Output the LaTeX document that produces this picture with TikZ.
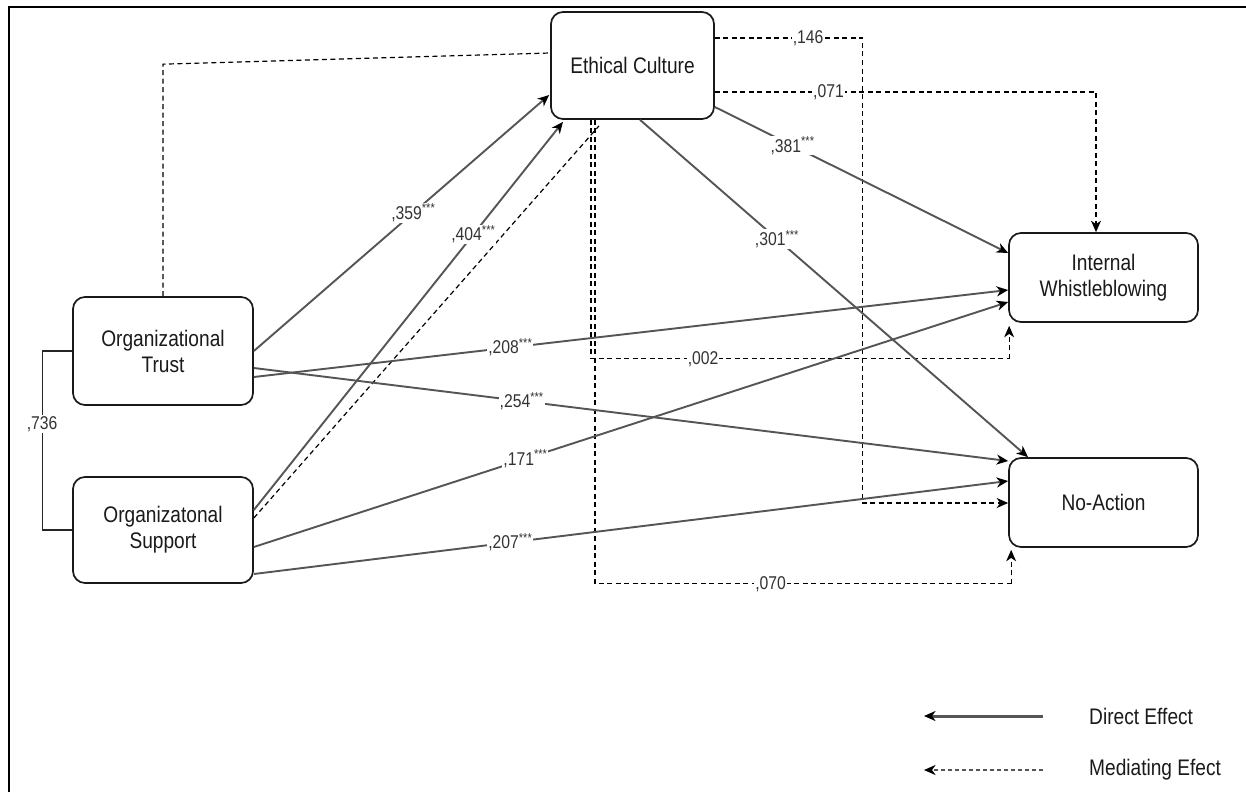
\documentclass[tikz,border=0pt]{standalone}
\usepackage{fontspec}
\setmainfont{Liberation Sans}[FakeStretch=0.85]
\usetikzlibrary{arrows.meta,calc}
\definecolor{lgray}{HTML}{555555}
\definecolor{txt}{HTML}{1A1A1A}
\newcommand\nodefont{\fontsize{22.5}{26}\selectfont}
\newcommand\labfont{\fontsize{18.5}{20}\selectfont}
\newcommand\stars{\textsuperscript{***}}
\begin{document}
\begin{tikzpicture}[x=1pt,y=-1pt,
  box/.style={draw=black!90,line width=1.7pt,rounded corners=12pt,inner sep=0pt,align=center,font=\nodefont,text=txt},
  tipA/.style={-{Stealth[length=11.5pt,width=10pt,inset=3.5pt,color=black]}},
  direct/.style={draw=lgray,line width=1.9pt,tipA},
  med/.style={draw=black,line width=1.2pt,dash pattern=on 5pt off 3.5pt},
  medarr/.style={med,tipA},
  lab/.style={fill=white,inner sep=1pt,font=\labfont,text=black!80},
  legtext/.style={anchor=west,inner sep=0pt,font=\nodefont,text=txt}]
\useasboundingbox (0,0) rectangle (1246,792);
\fill[white] (0,0) rectangle (1246,792);
\draw[line width=2.2pt] (9,792) -- (9,7) -- (1246,7);

% nodes
\node[box,minimum width=180pt,minimum height=108pt] (ot) at (163,351) {Organizational\\Trust};
\node[box,minimum width=180pt,minimum height=106pt] (os) at (163,530) {Organizatonal\\Support};
\node[box,minimum width=163pt,minimum height=107pt] (ec) at (632.5,65.5) {Ethical Culture};
\node[box,minimum width=189pt,minimum height=89pt] (iw) at (1103.5,277.5) {Internal\\Whistleblowing};
\node[box,minimum width=189pt,minimum height=89pt] (na) at (1103.5,502.5) {No-Action};

% correlation
\draw[line width=1.3pt,black!85] (ot.west) -- ++(-30,0) |- node[lab,pos=0.204] {,736} (os.west);

% mediating paths
\draw[med] (ot.north) -- ++(0,-232) -- ($(ec.west)+(0,-12.5)$);
\draw[med] ($(os.east)+(0,-12)$) -- ($(ec.south)+(-33.5,6)$);
\draw[medarr] ($(ec.east)+(0,-27.5)$) -- node[lab,pos=0.63] {,146} ++(148,0) |- ($(na.west)+(0,0.5)$);
\draw[medarr] ($(ec.east)+(0,26.5)$) -| node[lab,pos=0.149] {,071} ($(iw.north)+(-7.5,0)$);
\draw[med] ($(ec.south)+(-41.5,0)$) |- node[lab,pos=0.634] {,002} ($(iw.south west)+(1,36)$) coordinate (c002);
\draw[medarr] (c002) -- ($(iw.south west)+(1,3)$);
\draw[med] ($(ec.south)+(-37.5,0)$) |- node[lab,pos=0.711] {,070} ($(na.south west)+(3,36)$) coordinate (c070);
\draw[medarr] (c070) -- ($(na.south west)+(3,2)$);

% direct paths
\draw[direct] (ot.east) -- node[lab,pos=0.54] {,359\stars} ($(ec.west)+(-1,29.5)$);
\draw[direct] ($(os.east)+(0,-20)$) -- node[lab,pos=0.71] {,404\stars} ($(ec.south)+(-69.5,2)$);
\draw[direct] ($(ot.east)+(0,26)$) -- node[lab,pos=0.34] {,208\stars} ($(iw.west)+(0,12.5)$);
\draw[direct] ($(ot.east)+(0,17)$) -- node[lab,pos=0.355] {,254\stars} ($(na.west)+(0,-41.5)$);
\draw[direct] ($(os.east)+(0,17)$) -- node[lab,pos=0.36] {,171\stars} ($(iw.west)+(0,24.5)$);
\draw[direct] ($(os.east)+(0,44)$) -- node[lab,pos=0.34] {,207\stars} ($(na.west)+(0,-21.5)$);
\draw[direct] ($(ec.east)+(0,41.5)$) -- node[lab,pos=0.265] {,381\stars} ($(iw.west)+(0,-24.5)$);
\draw[direct] ($(ec.south)+(7.5,0)$) -- node[lab,pos=0.353] {,301\stars} ($(na.north)+(-75.5,0)$);

% legend
\coordinate (l1a) at (924,716); \coordinate (l1b) at (1043,716);
\coordinate (l2a) at (924,770); \coordinate (l2b) at (1043,770);
\draw[draw=lgray,line width=3pt,tipA] (l1b) -- (l1a);
\draw[draw=lgray,line width=2.5pt,dash pattern=on 4pt off 3pt,tipA] (l2b) -- (l2a);
\node[legtext] (t1) at (1089,716) {Direct Effect};
\node[legtext] (t2) at (1089,770) {Mediating Efect};
\end{tikzpicture}
\end{document}
